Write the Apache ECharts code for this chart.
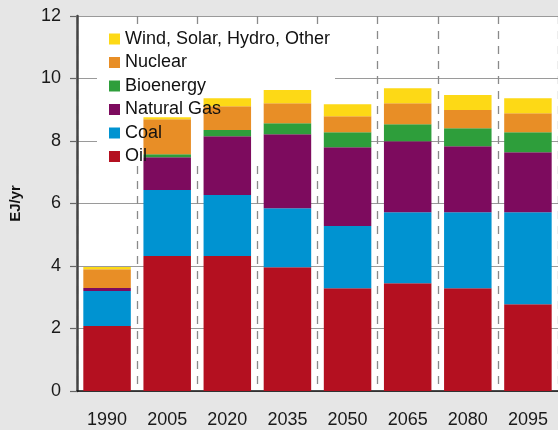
<!DOCTYPE html>
<html lang="en">
<head>
    <meta charset="UTF-8">
    <title>EJ/yr</title>
    <script type="text/javascript" src="https://cdn.jsdelivr.net/npm/echarts@6/dist/echarts.min.js"></script>
    <style>
        body { margin: 0; background: #e6e6e6; }
        #charts { width: 558px; height: 430px; }
    </style>
</head>
<body>
<div id="charts"></div>
<script>
    // 年份
    var years = ["1990", "2005", "2020", "2035", "2050", "2065", "2080", "2095"]
    // 各类能源 EJ/yr
    var oil = [2.08, 4.32, 4.32, 3.96, 3.29, 3.45, 3.29, 2.78]
    var coal = [1.12, 2.11, 1.95, 1.89, 1.99, 2.27, 2.43, 2.94]
    var naturalGas = [0.10, 1.05, 1.88, 2.37, 2.52, 2.27, 2.11, 1.92]
    var bioenergy = [0, 0.10, 0.20, 0.35, 0.48, 0.55, 0.58, 0.64]
    var nuclear = [0.60, 1.12, 0.76, 0.64, 0.51, 0.67, 0.58, 0.61]
    var renewables = [0.07, 0.06, 0.26, 0.42, 0.39, 0.48, 0.48, 0.48]
    var yTicks = [0, 12, 2] // min, max, interval

    var font = "Liberation Sans, Arial, sans-serif"

    function bar(name, data, color) {
        return {
            name: name, type: "bar", stack: "total", data: data,
            barCategoryGap: "21%", z: 2,
            itemStyle: {color: color},
            emphasis: {disabled: true}
        }
    }

    var chart = echarts.init(document.getElementById("charts"), null, {renderer: "canvas"})
    chart.setOption({
        animation: false,
        backgroundColor: "#e6e6e6",
        textStyle: {fontFamily: font},
        grid: {left: 76, top: 16, right: -6, bottom: 39, show: true, backgroundColor: "#fff", borderWidth: 0},
        // 图例后面的白底，盖住网格线
        graphic: [{
            type: "rect", z: 1,
            shape: {x: 97, y: 25, width: 238, height: 139},
            style: {fill: "#fff"}
        }],
        legend: {
            orient: "vertical", left: 109, top: 30, padding: 0, z: 10,
            icon: "rect", itemWidth: 11, itemHeight: 11, itemGap: 5.5,
            textStyle: {fontSize: 18, color: "#111", fontFamily: font, padding: [0, 0, 0, 0]},
            data: ["Wind, Solar, Hydro, Other", "Nuclear", "Bioenergy", "Natural Gas", "Coal", "Oil"]
        },
        xAxis: {
            type: "category", data: years, z: 0,
            axisLine: {lineStyle: {color: "#111", width: 1.5}},
            axisTick: {length: 6, lineStyle: {color: "#444", width: 1.5}},
            axisLabel: {fontSize: 18, color: "#1a1a1a", margin: 20},
            splitLine: {show: true, interval: 0, lineStyle: {color: "#8a8a8a", width: 1.3, type: [8, 7]}}
        },
        yAxis: {
            type: "value", min: yTicks[0], max: yTicks[1], interval: yTicks[2], z: 0,
            name: "EJ/yr", nameLocation: "middle", nameGap: 54,
            nameTextStyle: {fontSize: 15, fontWeight: "bold", color: "#111"},
            axisLine: {show: true, lineStyle: {color: "#444", width: 2.5}},
            axisTick: {show: true, length: 7, lineStyle: {color: "#666", width: 1.2}},
            axisLabel: {fontSize: 18, color: "#1a1a1a", margin: 16},
            splitLine: {lineStyle: {color: "#9a9a9a", width: 1}}
        },
        series: [
            bar("Oil", oil, "#b41020"),
            bar("Coal", coal, "#0093d1"),
            bar("Natural Gas", naturalGas, "#7d0b5e"),
            bar("Bioenergy", bioenergy, "#2e9e3b"),
            bar("Nuclear", nuclear, "#e88e26"),
            bar("Wind, Solar, Hydro, Other", renewables, "#fdd916")
        ]
    })
</script>
</body>
</html>
